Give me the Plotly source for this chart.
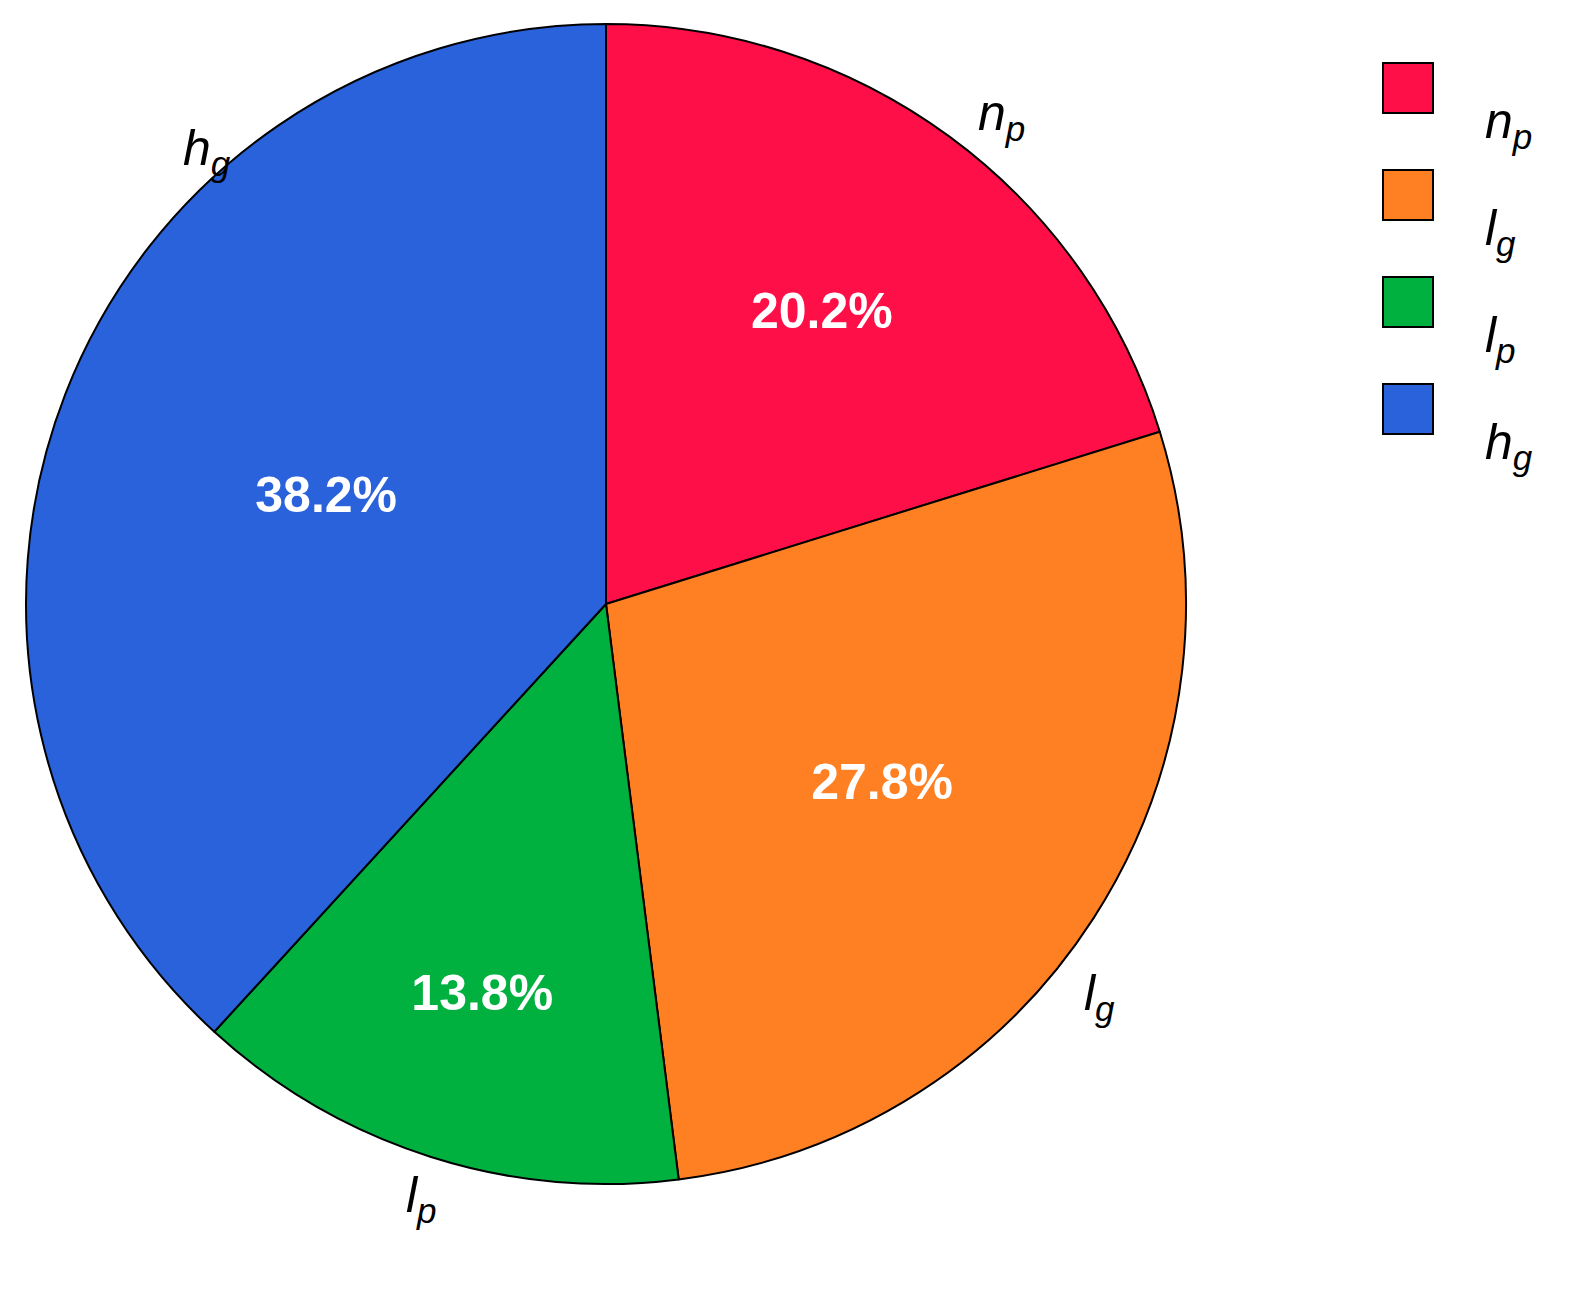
import math
import plotly.graph_objects as go

# data
labels = ["<i>n<sub>p</sub></i>", "<i>l<sub>g</sub></i>", "<i>l<sub>p</sub></i>", "<i>h<sub>g</sub></i>"]
values = [20.2, 27.8, 13.8, 38.2]
colors = ["#ff0f48", "#ff8022", "#00b140", "#2962db"]
# where along each slice (0 = start, 1 = end) its outside label sits
label_frac = [0.5, 0.57, 0.52, 0.7]

W, H = 1571, 1295
cx, cy, R = 598, 596, 580

fig = go.Figure(go.Pie(
    labels=labels,
    values=values,
    sort=False,
    direction="clockwise",
    rotation=0,
    marker=dict(colors=colors, line=dict(color="black", width=2)),
    texttemplate="<b>%{percent:.1%}</b>",
    textposition="inside",
    insidetextorientation="horizontal",
    textfont=dict(color="white", size=50, family="Liberation Sans"),
    domain=dict(x=[(cx - R) / W, (cx + R) / W], y=[1 - (cy + R) / H, 1 - (cy - R) / H]),
    hoverinfo="label+percent",
    showlegend=False,
))

# outside labels
total = sum(values)
acc = 0
for lab, v, f in zip(labels, values, label_frac):
    ang = (acc + v * f) / total * 2 * math.pi
    acc += v
    r = R * 1.13
    fig.add_annotation(x=(cx + 7 + r * math.sin(ang)) / W, y=1 - (cy + 7 - r * math.cos(ang)) / H,
                       xref="paper", yref="paper", text=lab, showarrow=False,
                       font=dict(size=50, color="black", family="Liberation Sans"))

# legend drawn as boxes + text
for i, (lab, c) in enumerate(zip(labels, colors)):
    top = 55 + i * 107
    fig.add_shape(type="rect", xref="paper", yref="paper",
                  x0=1375 / W, x1=1425 / W, y0=1 - (top + 50) / H, y1=1 - top / H,
                  fillcolor=c, line=dict(color="black", width=2))
    fig.add_annotation(x=1475 / W, y=1 - (top + 28) / H, xref="paper", yref="paper",
                       text=lab, showarrow=False, xanchor="left",
                       font=dict(size=50, color="black", family="Liberation Sans"))

fig.update_layout(
    width=W, height=H,
    margin=dict(l=0, r=0, t=0, b=0),
    paper_bgcolor="white",
)

fig.write_html("out.html")
